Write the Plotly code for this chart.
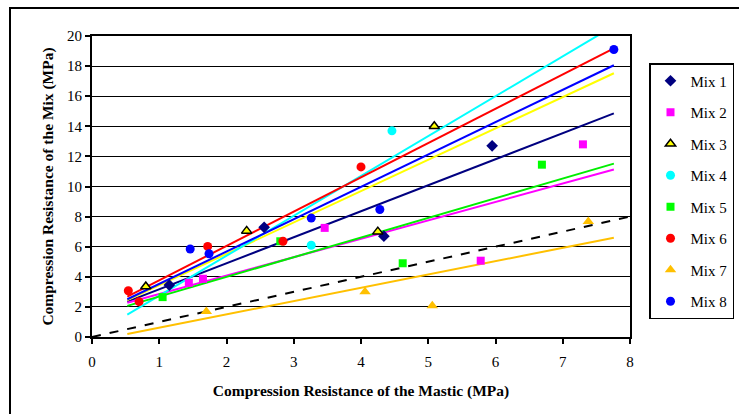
import plotly.graph_objects as go

# ---------------- data ----------------
mix_names = ["Mix 1", "Mix 2", "Mix 3", "Mix 4", "Mix 5", "Mix 6", "Mix 7", "Mix 8"]

mix1_x = [1.15, 2.56, 4.34, 5.95]
mix1_y = [3.45, 7.29, 6.70, 12.70]
mix2_x = [1.44, 1.65, 3.46, 5.78, 7.30]
mix2_y = [3.60, 3.87, 7.25, 5.07, 12.80]
mix3_x = [0.80, 2.30, 4.25, 5.09]
mix3_y = [3.35, 7.05, 7.00, 14.00]
mix4_x = [3.26, 4.46]
mix4_y = [6.10, 13.70]
mix5_x = [1.05, 2.80, 4.62, 6.69]
mix5_y = [2.65, 6.36, 4.90, 11.45]
mix6_x = [0.54, 0.70, 1.72, 2.84, 4.00]
mix6_y = [3.07, 2.35, 6.02, 6.36, 11.30]
mix7_x = [1.70, 4.06, 5.06, 7.38]
mix7_y = [1.69, 3.00, 2.07, 7.67]
mix8_x = [1.46, 1.74, 3.26, 4.28, 7.76]
mix8_y = [5.85, 5.53, 7.90, 8.47, 19.10]

# linear trend lines (slope, intercept), same order as mixes
trend_slope = [1.729, 1.224, 2.083, 2.650, 1.307, 2.280, 0.885, 2.149]
trend_intercept = [1.44, 1.63, 1.36, 0.10, 1.38, 1.49, -0.27, 1.38]
trend_x_range = [0.525, 7.76]

# line of equality
equality_x = [0, 8]
equality_y = [0, 8]

x_ticks = [0, 1, 2, 3, 4, 5, 6, 7, 8]
y_ticks = [0, 2, 4, 6, 8, 10, 12, 14, 16, 18, 20]

# ---------------- styles ----------------
colors = ["#000080", "#FF00FF", "#FFFF00", "#00FFFF", "#00FF00", "#FF0000", "#FFC000", "#0000FF"]
line_colors = ["#000080", "#FF00FF", "#FFFF00", "#00FFFF", "#00EE00", "#FF0000", "#FFC000", "#0000FF"]
symbols = ["diamond", "square", "triangle-up", "circle", "square", "circle", "triangle-up", "circle"]
sizes = [9, 8, 9, 9, 8, 9, 10, 9]

xs = [mix1_x, mix2_x, mix3_x, mix4_x, mix5_x, mix6_x, mix7_x, mix8_x]
ys = [mix1_y, mix2_y, mix3_y, mix4_y, mix5_y, mix6_y, mix7_y, mix8_y]

FONT = "Liberation Serif, Times New Roman, serif"

fig = go.Figure()

# equality line
fig.add_trace(go.Scatter(x=equality_x, y=equality_y, mode="lines",
                         line=dict(color="black", width=2, dash="dash"),
                         showlegend=False, hoverinfo="skip"))

# trend lines
for i in range(8):
    tx = trend_x_range
    ty = [trend_slope[i] * v + trend_intercept[i] for v in tx]
    fig.add_trace(go.Scatter(x=tx, y=ty, mode="lines",
                             line=dict(color=line_colors[i], width=2),
                             showlegend=False, hoverinfo="skip"))

# markers
for i in range(8):
    mline = dict(color="black", width=1.5) if i == 2 else dict(width=0)
    fig.add_trace(go.Scatter(x=xs[i], y=ys[i], mode="markers", name=mix_names[i],
                             legendgroup=mix_names[i],
                             marker=dict(symbol=symbols[i], color=colors[i], size=sizes[i], line=mline)))

# plot area geometry (pixels)
W, H = 739, 414
L, R, T, B = 92, 630, 36, 337
pw, ph = R - L, B - T

def px_x(p):
    return (p - L) / pw

def px_y(p):
    return (B - p) / ph

fig.update_layout(
    width=W, height=H,
    margin=dict(l=L, r=W - R, t=T, b=H - B, autoexpand=False),
    paper_bgcolor="white", plot_bgcolor="white",
    font=dict(family=FONT, size=15, color="black"),
    xaxis=dict(range=[0, 8], tickvals=x_ticks, showgrid=False, zeroline=False,
               showline=True, linecolor="black", linewidth=2, mirror=True,
               ticks="outside", ticklen=5, tickwidth=1.5, tickcolor="black",
               ticklabelstandoff=5, automargin=False,
               tickfont=dict(size=15),
               title=dict(text="<b>Compression Resistance of the Mastic (MPa)</b>",
                          font=dict(size=15.5), standoff=16)),
    yaxis=dict(range=[0, 20], tickvals=y_ticks, showgrid=True, gridcolor="black", gridwidth=1,
               zeroline=False, showline=True, linecolor="black", linewidth=2, mirror=True,
               ticks="outside", ticklen=5, tickwidth=1.5, tickcolor="black",
               automargin=False, tickfont=dict(size=15),
               title=dict(text="<b>Compression Resistance of the Mix (MPa)</b>",
                          font=dict(size=15.5), standoff=10)),
    legend=dict(x=px_x(649), y=px_y(63), xanchor="left", yanchor="top",
                bgcolor="white", bordercolor="black", borderwidth=1.5,
                font=dict(family=FONT, size=15), tracegroupgap=9, itemwidth=30),
    shapes=[dict(type="rect", xref="paper", yref="paper",
                 x0=px_x(10), x1=px_x(900), y0=px_y(600), y1=px_y(8),
                 line=dict(color="black", width=2), fillcolor="rgba(0,0,0,0)", layer="below")],
)

fig.write_html("out.html", config={"displayModeBar": False},
               post_script="document.body.style.margin='0';document.body.style.overflow='hidden';")
